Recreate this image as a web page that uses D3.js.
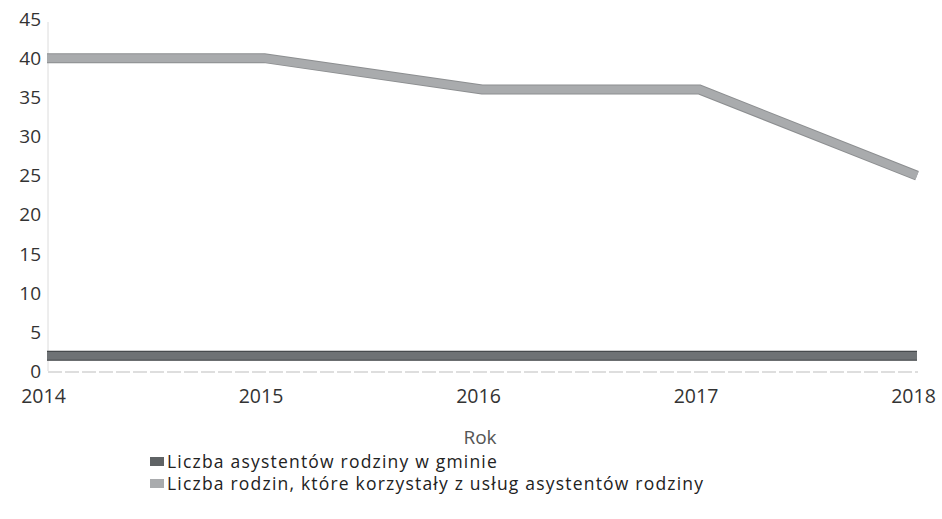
<!DOCTYPE html>
<html><head><meta charset="utf-8">
<script src="https://cdn.jsdelivr.net/npm/d3@7"></script>
<style>body{margin:0;background:#fff}svg{display:block;font-family:"Open Sans",sans-serif}</style>
</head><body><svg id="c" width="942" height="519"></svg>
<script>
const years = [2014, 2015, 2016, 2017, 2018];
const assistants = [2, 2, 2, 2, 2];
const families = [40, 40, 36, 36, 25];
const yTicks = [0, 5, 10, 15, 20, 25, 30, 35, 40, 45];
const seriesNames = ["Liczba asystentów rodziny w gminie", "Liczba rodzin, które korzystały z usług asystentów rodziny"];
const xTitle = "Rok";

const svg = d3.select("#c");
const x = d3.scaleLinear().domain([2014, 2018]).range([47, 917]);
const y = d3.scaleLinear().domain([0, 45]).range([371.5, 19]);

// axes
svg.append("line").attr("x1", 48).attr("x2", 48).attr("y1", 22).attr("y2", 371).attr("stroke", "#dcdcdc").attr("stroke-width", 1);
svg.append("line").attr("x1", 48).attr("x2", 918).attr("y1", 372).attr("y2", 372).attr("stroke", "#d4d4d4").attr("stroke-width", 1.5).attr("stroke-dasharray", "14,3");

const yAxis = d3.axisLeft(y).tickValues(yTicks).tickSize(0).tickPadding(0);
const gy = svg.append("g").attr("transform", "translate(41,0)").call(yAxis);
gy.select(".domain").remove();
gy.selectAll("text").attr("font-size", 19).attr("fill", "#333").attr("font-family", "Open Sans");

const xAxis = d3.axisBottom(x).tickValues(years).tickFormat(d3.format("d")).tickSize(0).tickPadding(0);
const gx = svg.append("g").attr("transform", "translate(-4,389)").call(xAxis);
gx.select(".domain").remove();
gx.selectAll("text").attr("font-size", 19.5).attr("fill", "#333").attr("font-family", "Open Sans");

svg.append("text").attr("x", 480).attr("y", 444).attr("text-anchor", "middle").attr("font-size", 19).attr("fill", "#555").text(xTitle);

const line = d3.line().x((d, i) => x(years[i])).y(d => y(d)).curve(d3.curveLinear);

function drawSeries(data, fill, edge, w) {
  svg.append("path").datum(data).attr("d", line).attr("fill", "none").attr("stroke", edge).attr("stroke-width", w + 2).attr("stroke-linejoin", "miter").attr("stroke-linecap", "butt");
  svg.append("path").datum(data).attr("d", line).attr("fill", "none").attr("stroke", fill).attr("stroke-width", w).attr("stroke-linejoin", "miter").attr("stroke-linecap", "butt");
}
drawSeries(families, "#a9abad", "#8c8e90", 8);
drawSeries(assistants, "#6e7275", "#3a3e40", 8);

// legend
const legColors = ["#5f6365", "#a9abad"];
const lg = svg.append("g");
seriesNames.forEach((n, i) => {
  lg.append("rect").attr("x", 150).attr("y", 457 + i * 22).attr("width", 14).attr("height", 9).attr("fill", legColors[i]);
  lg.append("text").attr("x", 167).attr("y", 468 + i * 22).attr("font-size", 17.5).attr("letter-spacing", 1.2).attr("fill", "#222").text(n);
});
</script></body></html>
